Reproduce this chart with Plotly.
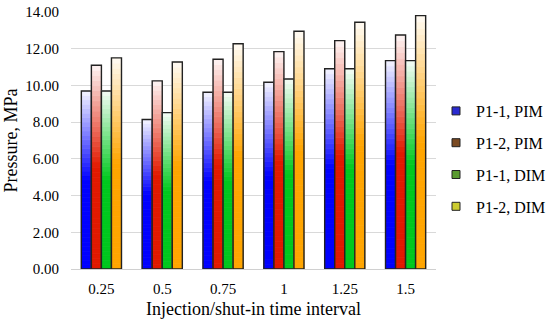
import plotly.graph_objects as go

categories = ["0.25", "0.5", "0.75", "1", "1.25", "1.5"]
series_names = ["P1-1, PIM", "P1-2, PIM", "P1-1, DIM", "P1-2, DIM"]
p11_pim = [9.70, 8.14, 9.63, 10.17, 10.91, 11.35]
p12_pim = [11.10, 10.25, 11.43, 11.84, 12.44, 12.75]
p11_dim = [9.70, 8.52, 9.63, 10.35, 10.91, 11.35]
p12_dim = [11.50, 11.28, 12.27, 12.95, 13.44, 13.80]
y_ticks = [0, 2, 4, 6, 8, 10, 12, 14]

series_values = [p11_pim, p12_pim, p11_dim, p12_dim]
base_colors = [(0, 0, 255), (225, 25, 0), (0, 200, 30), (255, 165, 0)]
legend_colors = ["#2a2ad0", "#7a4a22", "#5a9a30", "#cccc30"]

FONT = "Liberation Serif"
N = 40


def mix(c, t):
    return "rgb(%d,%d,%d)" % tuple(round(ci + (255 - ci) * t) for ci in c)


fig = go.Figure()

for j, vals in enumerate(series_values):
    for k in range(N):
        frac = (k + 0.5) / N
        t = 0.0 if frac < 0.5 else (frac - 0.5) / 0.5 * 0.96
        col = mix(base_colors[j], t)
        fig.add_trace(go.Bar(
            x=categories,
            y=[v / N for v in vals],
            base=[v * k / N for v in vals],
            offsetgroup=str(j),
            marker=dict(color=col, line=dict(width=0.8, color=col)),
            showlegend=False,
            hoverinfo="skip",
        ))
    fig.add_trace(go.Bar(
        x=categories,
        y=vals,
        offsetgroup=str(j),
        marker=dict(color="rgba(0,0,0,0)", line=dict(color="#222222", width=1.4)),
        showlegend=False,
        name=series_names[j],
    ))

for j, name in enumerate(series_names):
    fig.add_trace(go.Scatter(
        x=[None], y=[None], mode="markers", name=name,
        legendgroup=name,
        marker=dict(symbol="square", size=8, color=legend_colors[j],
                    line=dict(color="#222222", width=1)),
    ))

fig.update_layout(
    width=550, height=325,
    margin=dict(l=71, r=108, t=12, b=56),
    paper_bgcolor="white", plot_bgcolor="white",
    barmode="group", bargap=0.34, bargroupgap=0,
    font=dict(family=FONT, size=15, color="black"),
    legend=dict(x=436 / 550, y=1 - 159 / 325, xanchor="left", yanchor="middle",
                xref="container", yref="container",
                font=dict(family=FONT, size=16, color="black"),
                traceorder="grouped", tracegroupgap=8,
                itemwidth=30, bgcolor="rgba(0,0,0,0)", borderwidth=0),
    xaxis=dict(
        type="category", automargin=False,
        showline=True, linecolor="#d0d0d0", linewidth=1,
        ticks="", showgrid=False,
        tickfont=dict(family=FONT, size=15),
        ticklabelstandoff=6,
        title=dict(text="Injection/shut-in time interval",
                   font=dict(family=FONT, size=18), standoff=6),
    ),
    yaxis=dict(
        range=[0, 14], tickvals=y_ticks, tickformat=".2f",
        automargin=False,
        showgrid=True, gridcolor="#d9d9d9", gridwidth=1,
        zeroline=False, showline=False, ticks="",
        tickfont=dict(family=FONT, size=15),
        ticklabelstandoff=11,
        title=dict(text="Pressure, MPa", font=dict(family=FONT, size=18), standoff=2),
    ),
)

fig.write_html("out.html", config={"displayModeBar": False},
               post_script="document.body.style.margin='0';")
